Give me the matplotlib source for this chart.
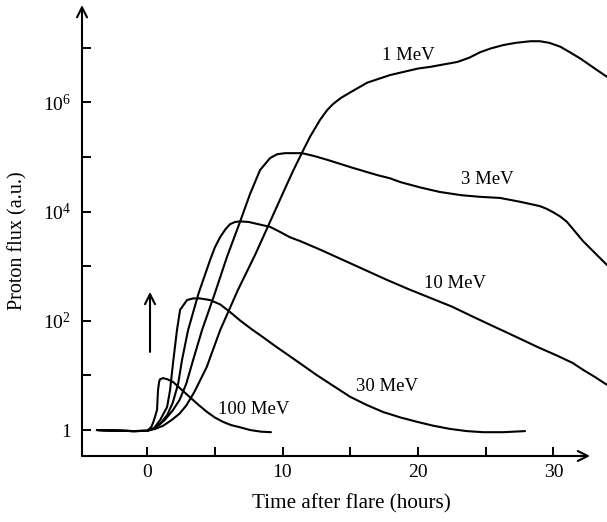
import numpy as np
import matplotlib
matplotlib.use("Agg")
import matplotlib.pyplot as plt

plt.rcParams["font.family"] = ["Liberation Serif", "DejaVu Serif"]
plt.rcParams["mathtext.fontset"] = "custom"
plt.rcParams["mathtext.rm"] = "Liberation Serif"

# time after flare (hours) and log10 of proton flux
t_1mev = [-3.7, -2.5, -1.0, 0.0, 0.6, 1.2, 1.8, 2.4, 2.9, 3.5, 4.4, 5.4, 6.7, 8.0,
          9.2, 10.18, 10.77, 11.44, 12.03, 12.77, 13.3, 13.73, 14.3, 14.98, 16.24,
          17.93, 20.0, 20.9, 22.0, 22.9, 23.8, 24.6, 25.4, 26.3, 27.2, 28.3, 29.0,
          29.7, 30.5, 31.2, 32.0, 32.7, 33.4, 34.0]
lf_1mev = [0.0, -0.01, -0.02, -0.015, 0.02, 0.08, 0.18, 0.30, 0.45, 0.70, 1.15,
           1.83, 2.56, 3.22, 3.88, 4.42, 4.74, 5.08, 5.37, 5.68, 5.86, 5.97, 6.08,
           6.18, 6.36, 6.50, 6.62, 6.65, 6.70, 6.74, 6.82, 6.92, 6.99, 7.05, 7.09,
           7.12, 7.12, 7.09, 7.02, 6.92, 6.80, 6.68, 6.56, 6.46]

t_3mev = [-3.7, -2.5, -1.0, 0.0, 0.6, 1.3, 1.9, 2.4, 2.9, 3.4, 4.06, 5.0, 5.9, 6.86,
          7.6, 8.34, 9.08, 9.6, 10.18, 11.44, 12.3, 13.28, 15.2, 16.97, 17.93,
          18.7, 20.2, 21.6, 23.2, 24.6, 26.05, 27.53, 29.0, 29.5, 29.96, 30.5,
          31.0, 32.18, 33.43, 34.0]
lf_3mev = [0.0, -0.01, -0.02, -0.015, 0.04, 0.18, 0.36, 0.55, 0.85, 1.28, 1.83,
           2.5, 3.17, 3.81, 4.32, 4.76, 4.98, 5.05, 5.07, 5.07, 5.02, 4.95, 4.80,
           4.67, 4.61, 4.54, 4.44, 4.36, 4.30, 4.27, 4.25, 4.18, 4.10, 4.05, 3.99,
           3.91, 3.81, 3.46, 3.15, 3.01]

t_10mev = [-3.7, -2.5, -1.0, 0.0, 0.5, 1.0, 1.5, 1.9, 2.3, 2.58, 3.03, 3.8, 4.65,
           5.0, 5.39, 5.8, 6.13, 6.5, 6.86, 7.5, 8.2, 9.08, 9.8, 10.55, 11.3, 12.9,
           14.5, 16.1, 17.7, 19.3, 20.9, 22.5, 24.1, 25.3, 26.6, 27.8, 29.0, 30.2,
           31.4, 32.2, 33.0, 34.0]
lf_10mev = [0.0, -0.01, -0.02, -0.015, 0.03, 0.12, 0.28, 0.50, 0.85, 1.28, 1.83,
            2.5, 3.11, 3.34, 3.53, 3.68, 3.77, 3.81, 3.82, 3.81, 3.77, 3.72, 3.63,
            3.53, 3.46, 3.29, 3.11, 2.93, 2.75, 2.58, 2.42, 2.26, 2.07, 1.93, 1.78,
            1.64, 1.50, 1.37, 1.23, 1.10, 0.98, 0.82]

t_30mev = [-3.7, -2.5, -1.0, 0.0, 0.5, 0.96, 1.48, 1.7, 1.92, 2.21, 2.44, 2.95,
           3.4, 3.9, 4.65, 5.4, 6.13, 6.9, 7.7, 8.56, 9.5, 10.55, 11.3, 12.5, 13.8,
           14.98, 16.2, 17.42, 18.7, 19.93, 21.1, 22.36, 23.6, 24.8, 26.3, 27.9]
lf_30mev = [0.0, -0.01, -0.02, -0.015, 0.03, 0.18, 0.42, 0.73, 1.23, 1.83, 2.20,
            2.38, 2.41, 2.41, 2.38, 2.30, 2.16, 2.00, 1.85, 1.70, 1.53, 1.35, 1.22,
            1.01, 0.80, 0.61, 0.46, 0.33, 0.23, 0.15, 0.08, 0.02, -0.02, -0.04,
            -0.04, -0.02]

t_100mev = [-3.7, -2.5, -1.0, 0.0, 0.3, 0.44, 0.6, 0.74, 0.81, 0.89, 0.96, 1.18,
            1.5, 1.92, 2.5, 3.17, 3.8, 4.43, 5.0, 5.6, 6.2, 6.86, 7.6, 8.4, 9.15]
lf_100mev = [0.0, -0.01, -0.02, -0.015, 0.05, 0.13, 0.25, 0.37, 0.73, 0.88, 0.93,
             0.95, 0.93, 0.88, 0.75, 0.60, 0.46, 0.33, 0.23, 0.15, 0.09, 0.05,
             0.0, -0.03, -0.04]

curve_labels = ["1 MeV", "3 MeV", "10 MeV", "30 MeV", "100 MeV"]
label_t = [19.3, 25.1, 22.7, 17.7, 7.9]
label_lf = [6.85, 4.58, 2.69, 0.79, 0.38]

x_major = [0, 10, 20, 30]
x_minor = [5, 15, 25]
y_major = [1, 1e2, 1e4, 1e6]
y_major_labels = ["1", r"$\mathregular{10^{2}}$", r"$\mathregular{10^{4}}$",
                  r"$\mathregular{10^{6}}$"]
y_minor = [10, 1e3, 1e5, 1e7]

fig = plt.figure(figsize=(6.07, 5.22), dpi=100)
ax = fig.add_axes([82 / 607, 66 / 522, 525 / 607, 456 / 522])
ax.set_facecolor("none")

lw = 1.5
for t, lf in [(t_1mev, lf_1mev), (t_3mev, lf_3mev), (t_10mev, lf_10mev),
              (t_30mev, lf_30mev), (t_100mev, lf_100mev)]:
    ax.plot(t, np.power(10.0, lf), color="black", lw=lw,
            solid_joinstyle="round", solid_capstyle="round")

ax.set_yscale("log")
ax.set_xlim(-4.8, 33.95)
ax.set_ylim(10 ** -0.476, 10 ** 7.875)

for name, tx, ly in zip(curve_labels, label_t, label_lf):
    ax.text(tx, 10 ** ly, name, fontsize=13.5, ha="center", va="center")

# flare onset arrow
ax.annotate("", xy=(0.22, 10 ** 2.53), xytext=(0.22, 10 ** 1.43),
            arrowprops=dict(arrowstyle="->", lw=1.5, mutation_scale=18,
                            shrinkA=0, shrinkB=0))

# axes drawn as arrows
for s in ax.spines.values():
    s.set_visible(False)
ax.annotate("", xy=(32.7, 0), xytext=(-4.8, 0),
            xycoords=("data", "axes fraction"), textcoords=("data", "axes fraction"),
            arrowprops=dict(arrowstyle="->", lw=1.5, mutation_scale=18,
                            shrinkA=0, shrinkB=0), annotation_clip=False)
ax.annotate("", xy=(0, 0.989), xytext=(0, 0), xycoords="axes fraction",
            arrowprops=dict(arrowstyle="->", lw=1.5, mutation_scale=18,
                            shrinkA=0, shrinkB=0), annotation_clip=False)

ax.set_xticks(x_major)
ax.set_xticks(x_minor, minor=True)
ax.set_xticklabels([str(v) for v in x_major])
ax.set_yticks(y_major)
ax.set_yticklabels(y_major_labels)
ax.set_yticks(y_minor, minor=True)
ax.yaxis.set_minor_formatter(matplotlib.ticker.NullFormatter())
ax.tick_params(which="both", direction="in", length=6.5, width=1.4, labelsize=14)
ax.tick_params(axis="x", pad=6)
ax.tick_params(axis="y", pad=8)

fig.text(18 / 607, 1 - 241 / 522, "Proton flux (a.u.)", rotation=90,
         ha="center", va="center", fontsize=14.5)
fig.text(351 / 607, 1 - 504 / 522, "Time after flare (hours)",
         ha="center", va="center", fontsize=15.2)

fig.savefig("out.png", dpi=100)
